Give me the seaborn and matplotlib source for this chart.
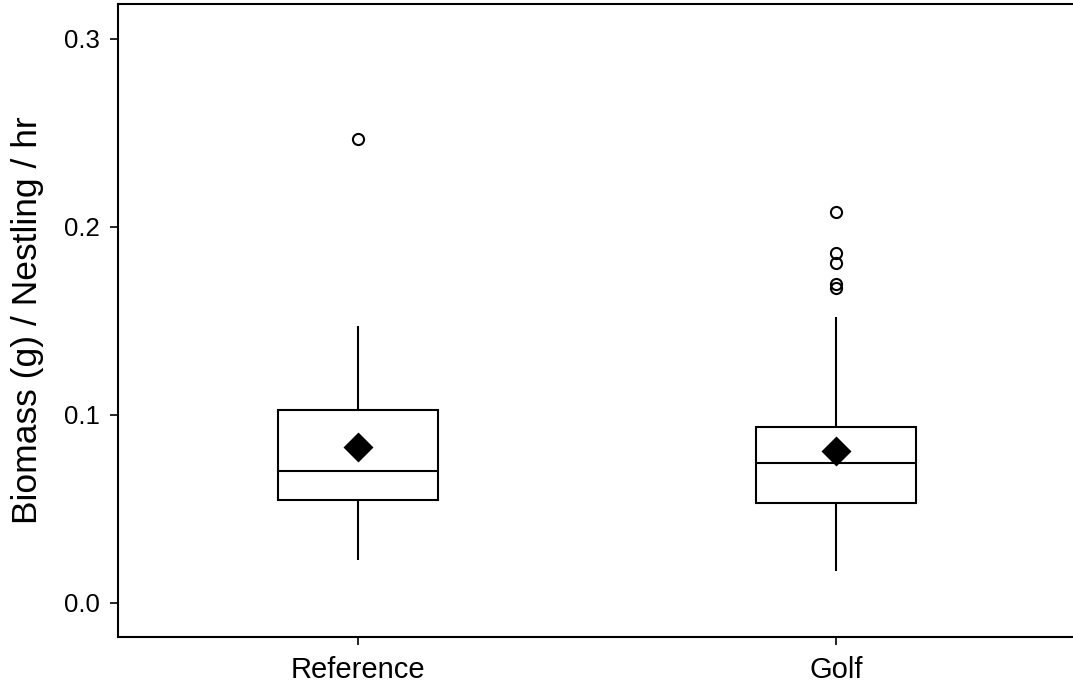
import numpy as np
import pandas as pd
import seaborn as sns
import matplotlib.pyplot as plt

# Summary values
groups = ["Reference", "Golf"]
whisker_low = [0.0227, 0.0170]
q1 = [0.0547, 0.0532]
median = [0.0702, 0.0745]
q3 = [0.1026, 0.0933]
whisker_high = [0.1473, 0.1519]
outliers = [[0.2466], [0.2081, 0.1860, 0.1809, 0.1695, 0.1673]]
means = [0.0827, 0.0809]

# Rebuild a minimal sample per group whose quartiles hit the read values exactly
rows = []
for g, lo, a, m, b, hi, out in zip(groups, whisker_low, q1, median, q3, whisker_high, outliers):
    k = 1 + len(out)
    vals = [lo] + [a] * k + [m] * k + [b] * k + [hi] + out
    rows += [(g, v) for v in vals]
df = pd.DataFrame(rows, columns=["site", "biomass"])

sns.set_style("white")
plt.rcParams['font.family'] = ['Liberation Sans', 'DejaVu Sans']
plt.rcParams['text.color'] = 'black'
plt.rcParams['axes.labelcolor'] = 'black'

fig = plt.figure(figsize=(10.73, 6.87), dpi=100)
ax = fig.add_axes([0.110, 0.0728, 0.89, 0.9214])

sns.boxplot(data=df, x="site", y="biomass", order=groups, ax=ax,
            color="white", linecolor="black", linewidth=1.5, width=0.333,
            whis=1.6, showcaps=False,
            flierprops=dict(marker="o", markersize=8, markerfacecolor="none",
                            markeredgecolor="black", markeredgewidth=1.5))

sns.pointplot(x=groups, y=means, order=groups, ax=ax, color="black",
              markers="D", linestyle="none", markersize=13, errorbar=None,
              zorder=10)

ax.set_xlim(-0.502, 1.496)
ax.set_ylim(-0.0183, 0.3186)
ax.set_yticks([0.0, 0.1, 0.2, 0.3])
ax.set_yticklabels(["0.0", "0.1", "0.2", "0.3"])
ax.set_xlabel("")
ax.set_ylabel("Biomass (g) / Nestling / hr", fontsize=25.5)
ax.yaxis.set_label_coords(-0.077, 0.5)

for side in ["left", "bottom", "top"]:
    ax.spines[side].set_linewidth(1.5)
    ax.spines[side].set_color("black")
ax.spines["right"].set_visible(False)

ax.tick_params(axis="both", direction="out", length=6, width=1.2, colors="black")
ax.tick_params(axis="y", pad=7, labelsize=18.5, left=True)
ax.tick_params(axis="x", pad=8, labelsize=21, bottom=True)

fig.savefig("out.png", dpi=100)
